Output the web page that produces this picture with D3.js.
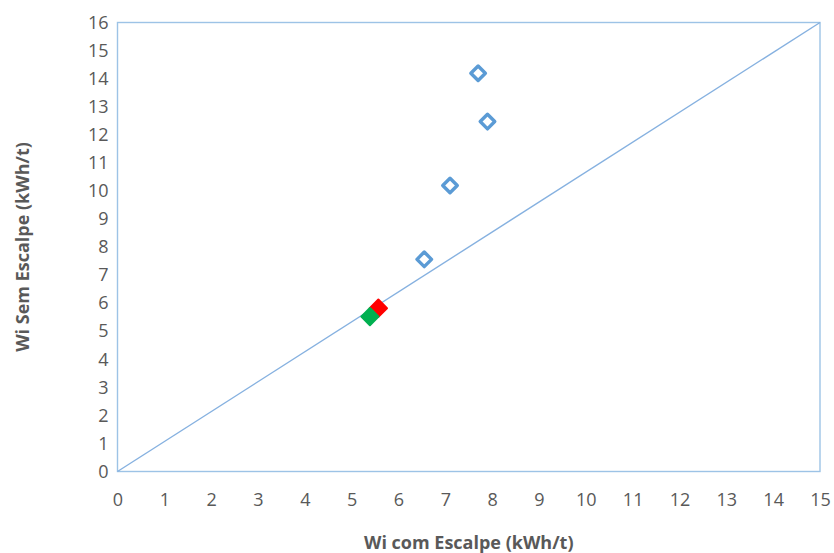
<!DOCTYPE html>
<html>
<head>
    <meta charset="UTF-8">
    <script src="https://d3js.org/d3.v7.min.js"></script>
    <style>
        body { margin: 0; background: #fff; }
        text { font-family: "Open Sans", sans-serif; fill: #595959; }
    </style>
</head>
<body>
    <div id="chart"></div>
    <script>
        var xTicks = d3.range(0, 16);
        var yTicks = d3.range(0, 17);
        // hollow blue diamonds
        var semX = [7.70, 7.90, 7.10, 6.55];
        var semY = [14.19, 12.47, 10.19, 7.56];
        // filled points
        var greenPt = [5.39, 5.52];
        var redPt = [5.57, 5.82];
        var lineX = [0, 15];
        var lineY = [0, 16];

        var width = 834, height = 553;
        var margin = { left: 117.5, top: 22.5, right: 14, bottom: 81.5 };

        var svg = d3.select('#chart').append('svg')
            .attr('width', width).attr('height', height);

        var x = d3.scaleLinear().domain([0, 15]).range([margin.left, width - margin.right]);
        var y = d3.scaleLinear().domain([0, 16]).range([height - margin.bottom, margin.top]);

        svg.append('rect')
            .attr('x', x(0)).attr('y', y(16))
            .attr('width', x(15) - x(0)).attr('height', y(0) - y(16))
            .attr('fill', 'none').attr('stroke', '#9dc3e6').attr('stroke-width', 1.4);

        var xAxis = svg.append('g')
            .attr('transform', 'translate(0,' + y(0) + ')')
            .call(d3.axisBottom(x).tickValues(xTicks).tickSize(0).tickPadding(22));
        var yAxis = svg.append('g')
            .attr('transform', 'translate(' + x(0) + ',0)')
            .call(d3.axisLeft(y).tickValues(yTicks).tickSize(0).tickPadding(9));
        [xAxis, yAxis].forEach(function(a) {
            a.select('.domain').remove();
            a.selectAll('text').style('font-size', '18px').attr('fill', '#595959')
                .style('font-family', '"Open Sans", sans-serif');
        });

        svg.append('line')
            .attr('x1', x(lineX[0])).attr('y1', y(lineY[0]))
            .attr('x2', x(lineX[1])).attr('y2', y(lineY[1]))
            .attr('stroke', '#86b1e0').attr('stroke-width', 1.4);

        var diamond = d3.symbol().type(d3.symbolDiamond2).size(135);

        svg.selectAll('.sem').data(semX).enter().append('path')
            .attr('d', diamond)
            .attr('transform', function(d, i) { return 'translate(' + x(d) + ',' + y(semY[i]) + ')'; })
            .attr('fill', 'none').attr('stroke', '#5b9bd5').attr('stroke-width', 3.4)
            .attr('stroke-linejoin', 'round');

        // green sits in front of red
        [[redPt, '#ff0000'], [greenPt, '#00b050']].forEach(function(p) {
            svg.append('path')
                .attr('d', d3.symbol().type(d3.symbolDiamond2).size(190))
                .attr('transform', 'translate(' + x(p[0][0]) + ',' + y(p[0][1]) + ')')
                .attr('fill', p[1]).attr('stroke', p[1]).attr('stroke-width', 2)
                .attr('stroke-linejoin', 'round');
        });

        svg.append('text')
            .attr('x', (x(0) + x(15)) / 2).attr('y', 549)
            .attr('text-anchor', 'middle')
            .style('font-size', '18px').style('font-weight', 'bold')
            .text('Wi com Escalpe (kWh/t)');

        svg.append('text')
            .attr('transform', 'translate(29,' + ((y(0) + y(16)) / 2) + ') rotate(-90)')
            .attr('text-anchor', 'middle')
            .style('font-size', '18px').style('font-weight', 'bold')
            .text('Wi Sem Escalpe (kWh/t)');
    </script>
</body>
</html>
